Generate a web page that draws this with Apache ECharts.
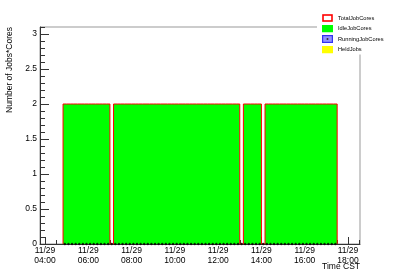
<!DOCTYPE html>
<html><head><meta charset="utf-8">
<script src="https://cdn.jsdelivr.net/npm/echarts@6/dist/echarts.min.js"></script>
<style>html,body{margin:0;padding:0;background:#fff}#c{width:400px;height:271px}</style>
</head><body><div id="c"></div>
<script>
// ---- data (10-minute bins, bin start times on 11/29, CST) ----
const binStarts = [
  '04:50',
  '05:00','05:10','05:20','05:30','05:40','05:50',
  '06:00','06:10','06:20','06:30','06:40','06:50',
  '07:00','07:10','07:20','07:30','07:40','07:50',
  '08:00','08:10','08:20','08:30','08:40','08:50',
  '09:00','09:10','09:20','09:30','09:40','09:50',
  '10:00','10:10','10:20','10:30','10:40','10:50',
  '11:00','11:10','11:20','11:30','11:40','11:50',
  '12:00','12:10','12:20','12:30','12:40','12:50',
  '13:00','13:10','13:20','13:30','13:40','13:50',
  '14:00','14:10','14:20','14:30','14:40','14:50',
  '15:00','15:10','15:20','15:30','15:40','15:50',
  '16:00','16:10','16:20','16:30','16:40','16:50',
  '17:00','17:10','17:20'
];
const binWidthMin = 10;
const totalJobCores = [
  2,
  2,2,2,2,2,2,
  2,2,2,2,2,2,
  0,2,2,2,2,2,
  2,2,2,2,2,2,
  2,2,2,2,2,2,
  2,2,2,2,2,2,
  2,2,2,2,2,2,
  2,2,2,2,2,2,
  0,2,2,2,2,2,
  0,2,2,2,2,2,
  2,2,2,2,2,2,
  2,2,2,2,2,2,
  2,2,2
];
const idleJobCores = [
  2,
  2,2,2,2,2,2,
  2,2,2,2,2,2,
  0,2,2,2,2,2,
  2,2,2,2,2,2,
  2,2,2,2,2,2,
  2,2,2,2,2,2,
  2,2,2,2,2,2,
  2,2,2,2,2,2,
  0,2,2,2,2,2,
  0,2,2,2,2,2,
  2,2,2,2,2,2,
  2,2,2,2,2,2,
  2,2,2
];
const runningJobCores = [
  0,
  0,0,0,0,0,0, 0,0,0,0,0,0, 0,0,0,0,0,0, 0,0,0,0,0,0,
  0,0,0,0,0,0, 0,0,0,0,0,0, 0,0,0,0,0,0, 0,0,0,0,0,0,
  0,0,0,0,0,0, 0,0,0,0,0,0, 0,0,0,0,0,0, 0,0,0,0,0,0,
  0,0,0
];
const heldJobs = [
  0,
  0,0,0,0,0,0, 0,0,0,0,0,0, 0,0,0,0,0,0, 0,0,0,0,0,0,
  0,0,0,0,0,0, 0,0,0,0,0,0, 0,0,0,0,0,0, 0,0,0,0,0,0,
  0,0,0,0,0,0, 0,0,0,0,0,0, 0,0,0,0,0,0, 0,0,0,0,0,0,
  0,0,0
];
const xTickHours = [4,6,8,10,12,14,16,18];
const xTickLabels = ['11/29\n04:00','11/29\n06:00','11/29\n08:00','11/29\n10:00','11/29\n12:00','11/29\n14:00','11/29\n16:00','11/29\n18:00'];
const xMinorTickHours = [4,4.5,5,5.5,6,6.5,7,7.5,8,8.5,9,9.5,10,10.5,11,11.5,12,12.5,13,13.5,14,14.5,15,15.5,16,16.5,17,17.5,18,18.5];
const yTickValues = [0,0.5,1,1.5,2,2.5,3];
const yTickLabels = ['0','0.5','1','1.5','2','2.5','3'];
const yMinorTickValues = [0,0.1,0.2,0.3,0.4,0.5,0.6,0.7,0.8,0.9,1,1.1,1.2,1.3,1.4,1.5,1.6,1.7,1.8,1.9,2,2.1,2.2,2.3,2.4,2.5,2.6,2.7,2.8,2.9,3,3.1];
const seriesNames = ['TotalJobCores','IdleJobCores','RunningJobCores','HeldJobs'];

// ---- build ----
const FONT = 'Liberation Sans, Arial, Helvetica, sans-serif';
const toH = s => (+s.slice(0,2)) + (+s.slice(3))/60;
const starts = binStarts.map(toH);
const w = binWidthMin/60;
function stepData(vals){
  const d = [[starts[0], 0]];
  vals.forEach((v,i) => d.push([starts[i], v]));
  d.push([starts[starts.length-1] + w, 0]);
  return d;
}
const svgIcon = s => 'image://data:image/svg+xml;charset=utf-8,' + encodeURIComponent(
  "<svg xmlns='http://www.w3.org/2000/svg' width='22' height='16' viewBox='0 0 11 8'>" + s + "</svg>");
const icons = [
  svgIcon("<rect x='1' y='1' width='9' height='6' fill='#fff' stroke='#ff0000' stroke-width='1.6'/>"),
  svgIcon("<rect x='0' y='0' width='11' height='8' fill='#00ff00'/>"),
  svgIcon("<rect x='0.6' y='0.6' width='9.8' height='6.8' fill='#7777ff' stroke='#0000ee' stroke-width='1.2'/><circle cx='5.5' cy='4' r='1' fill='#000'/>"),
  svgIcon("<rect x='0' y='0' width='11' height='8' fill='#ffff00'/>")
];

const chart = echarts.init(document.getElementById('c'), null, {renderer:'canvas'});
const xMin = 3.769, xMax = 18.555;
chart.setOption({
  animation: false,
  backgroundColor: '#fff',
  grid: {left: 40, right: 40, top: 27, bottom: 27, show: true, borderColor: '#999', borderWidth: 1, backgroundColor: '#fff'},
  legend: {
    orient: 'vertical', left: 317, top: 12, padding: [2, 20, 1, 5],
    itemWidth: 11, itemHeight: 8, itemGap: 2.5, backgroundColor: '#fff',
    textStyle: {fontSize: 5.7, color: '#000', fontFamily: FONT},
    data: seriesNames.map((n,i) => ({name: n, icon: icons[i]}))
  },
  xAxis: [
    {type: 'value', min: xMin, max: xMax, position: 'bottom',
     axisLine: {show: true, onZero: false, lineStyle: {color: '#333', width: 1}},
     axisTick: {show: true, inside: true, length: 7, customValues: xTickHours, lineStyle: {color: '#333'}},
     axisLabel: {customValues: xTickHours, formatter: v => xTickLabels[xTickHours.indexOf(v)],
                 fontSize: 8.5, lineHeight: 10, margin: 2, color: '#000', fontFamily: FONT, align: 'center'},
     splitLine: {show: false}},
    {type: 'value', min: xMin, max: xMax, position: 'bottom', offset: 0,
     axisLine: {show: false},
     axisTick: {show: true, inside: true, length: 4, customValues: xMinorTickHours, lineStyle: {color: '#333'}},
     axisLabel: {show: false}, splitLine: {show: false}}
  ],
  yAxis: [
    {type: 'value', min: 0, max: 3.1, position: 'left',
     axisLine: {show: true, onZero: false, lineStyle: {color: '#333', width: 1}},
     axisTick: {show: true, inside: true, length: 9, customValues: yTickValues, lineStyle: {color: '#333'}},
     axisLabel: {customValues: yTickValues, formatter: v => yTickLabels[yTickValues.indexOf(v)],
                 fontSize: 8.5, margin: 3, color: '#000', fontFamily: FONT},
     splitLine: {show: false}},
    {type: 'value', min: 0, max: 3.1, position: 'left', offset: 0,
     axisLine: {show: false},
     axisTick: {show: true, inside: true, length: 5, customValues: yMinorTickValues, lineStyle: {color: '#333'}},
     axisLabel: {show: false}, splitLine: {show: false}}
  ],
  series: [
    {name: 'IdleJobCores', type: 'line', step: 'end', symbol: 'none', z: 2,
     data: stepData(idleJobCores), lineStyle: {width: 0, color: '#00ff00'},
     itemStyle: {color: '#00ff00'}, areaStyle: {color: '#00ff00', opacity: 1}},
    {name: 'HeldJobs', type: 'line', step: 'end', symbol: 'none', z: 2,
     data: stepData(heldJobs), lineStyle: {width: 0, color: '#ffff00'},
     itemStyle: {color: '#ffff00'}, areaStyle: {color: '#ffff00', opacity: 1}},
    {name: 'TotalJobCores', type: 'line', step: 'end', symbol: 'none', z: 3,
     data: stepData(totalJobCores), lineStyle: {width: 1, color: '#ff0000'}, itemStyle: {color: '#ff0000'}},
    {name: 'RunningJobCores', type: 'scatter', z: 4, symbol: 'circle', symbolSize: 2.4,
     data: runningJobCores.map((v,i) => [starts[i] + w/2, v]), itemStyle: {color: '#000'}}
  ],
  graphic: [
    {type: 'text', x: 10, y: 27, rotation: Math.PI/2, z: 10,
     style: {text: 'Number of Jobs*Cores', font: '8.5px ' + FONT, fill: '#000', align: 'right', verticalAlign: 'middle'}},
    {type: 'text', x: 360, y: 267, z: 10,
     style: {text: 'Time CST', font: '8.5px ' + FONT, fill: '#000', align: 'right', verticalAlign: 'middle'}}
  ]
});
</script></body></html>
